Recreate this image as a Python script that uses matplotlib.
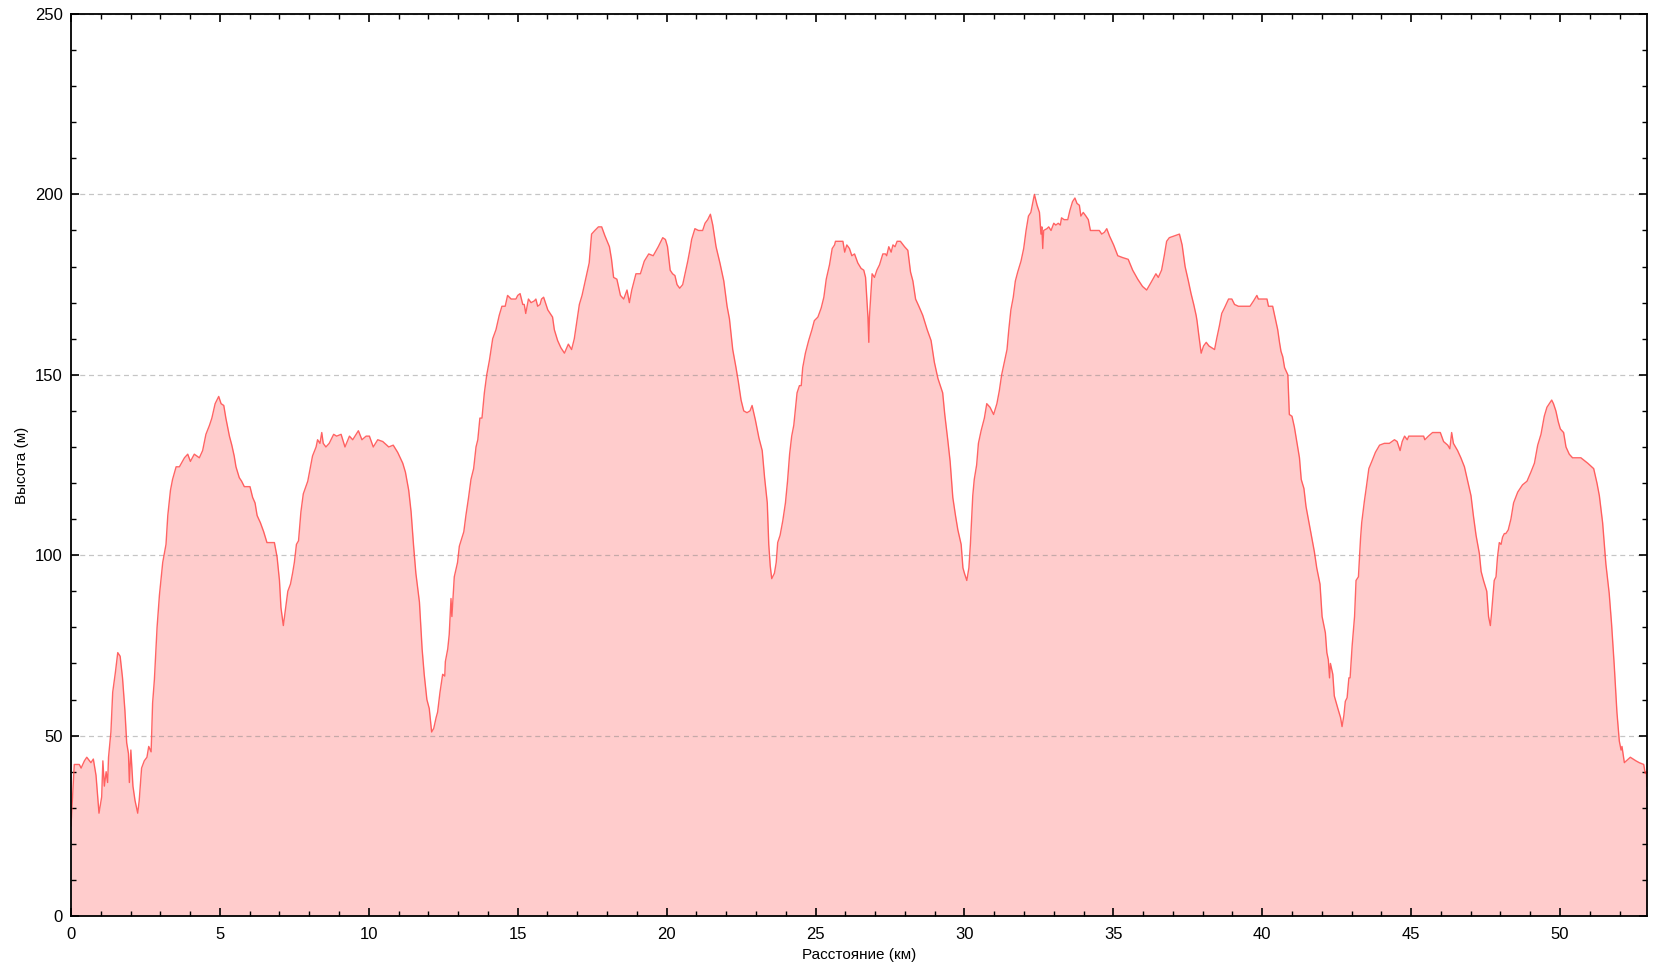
import matplotlib
matplotlib.use("Agg")
import matplotlib.pyplot as plt
from matplotlib.ticker import MultipleLocator

plt.rcParams['font.family'] = ['Liberation Sans', 'DejaVu Sans']

distance_km = [
    0.00, 0.11, 0.28, 0.34, 0.45, 0.53, 0.67, 0.75, 0.84, 0.94, 1.03, 1.07, 1.12, 1.18, 1.23, 1.26,
    1.34, 1.40, 1.49, 1.57, 1.65, 1.73, 1.81, 1.87, 1.93, 1.96, 2.01, 2.08, 2.15, 2.24, 2.29, 2.37,
    2.46, 2.55, 2.61, 2.69, 2.74, 2.80, 2.89, 2.97, 3.08, 3.19, 3.25, 3.34, 3.41, 3.53, 3.64, 3.81,
    3.92, 4.01, 4.14, 4.31, 4.42, 4.53, 4.65, 4.73, 4.84, 4.90, 4.96, 5.04, 5.13, 5.20, 5.32, 5.40,
    5.48, 5.54, 5.65, 5.73, 5.82, 6.01, 6.10, 6.18, 6.25, 6.36, 6.47, 6.58, 6.68, 6.83, 6.92, 7.00,
    7.05, 7.13, 7.20, 7.28, 7.37, 7.44, 7.50, 7.57, 7.64, 7.72, 7.80, 7.95, 8.03, 8.11, 8.23, 8.28,
    8.36, 8.42, 8.47, 8.56, 8.67, 8.82, 8.92, 9.07, 9.20, 9.35, 9.46, 9.65, 9.77, 9.91, 10.02, 10.15,
    10.30, 10.47, 10.67, 10.82, 10.97, 11.14, 11.23, 11.34, 11.42, 11.50, 11.58, 11.70, 11.79, 11.86,
    11.95, 12.03, 12.11, 12.18, 12.26, 12.31, 12.39, 12.48, 12.55, 12.57, 12.65, 12.70, 12.76, 12.79,
    12.87, 12.98, 13.04, 13.19, 13.26, 13.35, 13.43, 13.52, 13.60, 13.66, 13.73, 13.80, 13.88, 13.96,
    14.05, 14.16, 14.27, 14.38, 14.47, 14.58, 14.66, 14.78, 14.94, 15.00, 15.08, 15.14, 15.17, 15.22,
    15.27, 15.36, 15.45, 15.56, 15.61, 15.67, 15.75, 15.80, 15.87, 16.01, 16.17, 16.23, 16.34, 16.45,
    16.57, 16.70, 16.81, 16.90, 16.99, 17.07, 17.16, 17.24, 17.33, 17.40, 17.48, 17.59, 17.71, 17.82,
    17.93, 18.08, 18.15, 18.22, 18.33, 18.45, 18.56, 18.67, 18.75, 18.83, 18.97, 19.12, 19.25, 19.40,
    19.55, 19.72, 19.87, 19.96, 20.03, 20.12, 20.20, 20.28, 20.35, 20.44, 20.54, 20.62, 20.71, 20.79,
    20.84, 20.95, 21.07, 21.21, 21.29, 21.38, 21.47, 21.55, 21.66, 21.79, 21.92, 22.03, 22.11, 22.22,
    22.33, 22.41, 22.50, 22.59, 22.70, 22.80, 22.87, 22.98, 23.10, 23.21, 23.29, 23.38, 23.43, 23.48,
    23.53, 23.62, 23.68, 23.73, 23.81, 23.90, 23.99, 24.06, 24.13, 24.20, 24.27, 24.33, 24.38, 24.46,
    24.52, 24.57, 24.66, 24.77, 24.88, 24.96, 25.08, 25.19, 25.28, 25.36, 25.47, 25.56, 25.64, 25.67,
    25.92, 25.98, 26.05, 26.14, 26.22, 26.31, 26.42, 26.53, 26.62, 26.68, 26.72, 26.76, 26.79, 26.81,
    26.85, 26.90, 26.98, 27.06, 27.15, 27.26, 27.35, 27.39, 27.46, 27.54, 27.60, 27.67, 27.74, 27.85,
    27.99, 28.10, 28.19, 28.27, 28.36, 28.47, 28.60, 28.75, 28.88, 28.99, 29.11, 29.27, 29.34, 29.44,
    29.52, 29.61, 29.70, 29.78, 29.89, 29.95, 30.00, 30.08, 30.15, 30.20, 30.28, 30.33, 30.41, 30.47,
    30.56, 30.67, 30.75, 30.86, 30.98, 31.09, 31.17, 31.25, 31.34, 31.43, 31.49, 31.56, 31.64, 31.71,
    31.79, 31.90, 31.99, 32.07, 32.15, 32.23, 32.35, 32.44, 32.52, 32.57, 32.60, 32.63, 32.66, 32.77,
    32.83, 32.91, 33.00, 33.07, 33.15, 33.22, 33.26, 33.35, 33.47, 33.54, 33.63, 33.71, 33.78, 33.86,
    33.91, 33.99, 34.08, 34.16, 34.23, 34.42, 34.53, 34.61, 34.70, 34.78, 34.87, 35.01, 35.15, 35.31,
    35.50, 35.65, 35.82, 35.98, 36.12, 36.26, 36.43, 36.51, 36.62, 36.71, 36.79, 36.88, 37.05, 37.22,
    37.31, 37.41, 37.52, 37.61, 37.70, 37.78, 37.81, 37.87, 37.95, 38.03, 38.12, 38.21, 38.40, 38.47,
    38.56, 38.64, 38.73, 38.87, 38.98, 39.07, 39.20, 39.40, 39.59, 39.71, 39.82, 39.87, 40.02, 40.16,
    40.21, 40.35, 40.43, 40.52, 40.58, 40.63, 40.69, 40.75, 40.86, 40.91, 41.00, 41.08, 41.17, 41.25,
    41.31, 41.40, 41.47, 41.56, 41.64, 41.75, 41.83, 41.94, 42.01, 42.12, 42.17, 42.22, 42.26, 42.29,
    42.37, 42.42, 42.54, 42.63, 42.68, 42.74, 42.79, 42.85, 42.91, 42.95, 43.02, 43.10, 43.15, 43.23,
    43.30, 43.34, 43.43, 43.49, 43.58, 43.68, 43.80, 43.94, 44.10, 44.27, 44.44, 44.53, 44.63, 44.70,
    44.78, 44.87, 44.92, 45.17, 45.42, 45.46, 45.58, 45.72, 45.98, 46.09, 46.23, 46.30, 46.36, 46.42,
    46.56, 46.67, 46.79, 46.90, 47.01, 47.09, 47.18, 47.29, 47.35, 47.43, 47.54, 47.60, 47.66, 47.70,
    47.79, 47.85, 47.90, 47.96, 48.02, 48.07, 48.13, 48.18, 48.26, 48.35, 48.44, 48.58, 48.74, 48.89,
    49.02, 49.14, 49.25, 49.36, 49.47, 49.56, 49.64, 49.72, 49.78, 49.86, 49.94, 50.01, 50.12, 50.20,
    50.31, 50.42, 50.70, 50.93, 51.13, 51.24, 51.32, 51.43, 51.54, 51.65, 51.73, 51.82, 51.91, 51.99,
    52.05, 52.08, 52.16, 52.36, 52.55, 52.66, 52.81, 52.86, 52.90, 52.92,
]

elevation_m = [
    25, 42, 42, 41, 43, 44, 42.5, 43.5, 39, 28.5, 33, 43, 36, 40, 37, 44,
    51, 62, 67.5, 73, 72, 66, 57, 48, 45, 37, 46, 36, 32, 28.5, 32, 41,
    43, 44, 47, 45.5, 59, 65.5, 80, 89, 98, 103, 111, 118, 121, 124.5, 124.5, 127,
    128, 126, 128, 127, 129, 133.5, 136, 138, 142, 143, 144, 142, 141.5, 138, 133, 130.5,
    127.5, 124.5, 121.5, 120.5, 119, 119, 116, 114.5, 111, 109, 106.5, 103.5, 103.5, 103.5, 99.5, 93,
    85.5, 80.5, 85, 90, 92, 95, 98, 103, 104, 112, 117, 120.5, 124, 127.5, 130, 132,
    131, 134, 131, 130, 131, 133.5, 133, 133.5, 130, 133, 132, 134.5, 132, 133, 133, 130,
    132, 131.5, 130, 130.5, 128.5, 125.5, 123, 118, 112, 103, 95, 87, 74, 67,
    60, 57.5, 51, 52, 55, 56.5, 62, 67, 66.5, 70.5, 74, 78, 88, 83,
    94, 98, 102.5, 106.5, 111, 116, 121, 124, 130, 132, 138, 138, 145, 150,
    154, 160, 162.5, 166.5, 169, 169, 172, 171, 171, 172, 172.5, 170.5, 169.5, 169.5,
    167, 171, 170, 170.5, 171, 169, 169.5, 171, 171.5, 168, 166, 162.5, 159.5, 157.5,
    156, 158.5, 157, 160, 165, 169.5, 172, 175, 178.5, 181, 189, 190, 191, 191,
    188.5, 185.5, 182, 177, 176.5, 172, 171, 173.5, 170, 173.5, 178, 178, 181.5, 183.5,
    183, 185.5, 188, 187.5, 185.5, 179, 178, 177.5, 175, 174, 175, 178, 181.5, 185,
    187.5, 190.5, 190, 190, 192, 193, 194.5, 191.5, 185.5, 181, 176, 169, 165.5, 157,
    152, 148, 143, 140, 139.5, 140, 141.5, 137.5, 132.5, 129, 121.5, 114.5, 103, 97,
    93.5, 95, 98, 103.5, 105.5, 109.5, 114.5, 120.5, 128, 133, 136, 141, 145, 147,
    147, 152, 156, 159.5, 162.5, 165, 166, 168.5, 171.5, 176.5, 180.5, 185, 186, 187,
    187, 184, 186, 185, 183, 183.5, 181, 179.5, 179, 177, 171.5, 166, 159, 166,
    171.5, 178, 177, 179, 180.5, 183.5, 183.5, 183, 185.5, 184, 186, 185.5, 187, 187,
    185.5, 184.5, 178.5, 176, 171, 169, 166.5, 162.5, 159.5, 153.5, 149, 145, 139, 132,
    126, 116, 111, 107, 103, 96.5, 95, 93, 96.5, 103, 116.5, 121, 125, 131,
    134.5, 138, 142, 141, 139, 142, 145.5, 150, 153.5, 157, 162.5, 168, 171.5, 176,
    178.5, 181.5, 185, 190, 194, 195, 200, 197, 195, 189, 191, 185, 190, 190.5,
    191, 190, 192, 191.5, 192, 191.5, 193.5, 193, 193, 195.5, 198, 199, 197.5, 197,
    194, 195, 194, 193, 190, 190, 190, 189, 189.5, 190.5, 188.5, 186, 183, 182.5,
    182, 179, 176.5, 174.5, 173.5, 175.5, 178, 177, 179, 183, 187, 188, 188.5, 189,
    186, 180, 176, 172.5, 169.5, 166.5, 165, 161, 156, 158, 159, 158, 157, 160,
    163.5, 167, 168.5, 171, 171, 169.5, 169, 169, 169, 170.5, 172, 171, 171, 171,
    169, 169, 166, 162.5, 159, 156.5, 155, 152, 150, 139, 138.5, 135.5, 131, 127,
    121, 118.5, 113.5, 109.5, 106, 101, 96.5, 92, 83, 78.5, 73, 71, 66, 70,
    67, 61, 57.5, 55, 52.5, 55.5, 59.5, 60.5, 66, 66, 75, 83, 93, 94,
    104.5, 109, 115, 118.5, 124, 126, 128.5, 130.5, 131, 131, 132, 131.5, 129, 131.5,
    133, 132, 133, 133, 133, 132, 133, 134, 134, 131.5, 130.5, 129.5, 134, 131,
    129, 127, 124.5, 120.5, 116.5, 111, 105.5, 100.5, 95.5, 93, 90, 83, 80.5, 84,
    93, 94, 99.5, 103.5, 103, 105, 106, 106, 107, 110, 114.5, 117.5, 119.5, 120.5,
    123, 125.5, 130.5, 133.5, 138.5, 141, 142, 143, 142, 140, 137, 135, 134, 130,
    128, 127, 127, 125.5, 124, 120, 116.5, 109, 97.5, 89.5, 81, 69.5, 56.5, 48.5,
    46, 47, 42.5, 44, 43, 42.5, 42, 39.5, 40, 36,
]

x_ticks = [0, 5, 10, 15, 20, 25, 30, 35, 40, 45, 50]
y_ticks = [0, 50, 100, 150, 200, 250]

fig = plt.figure(figsize=(16.62, 9.71), dpi=100)
ax = fig.add_axes([71 / 1662, 1 - 916 / 971, (1647 - 71) / 1662, (916 - 14) / 971])

ax.fill_between(distance_km, elevation_m, 0, color='#FFCCCC', linewidth=0, zorder=1)
ax.plot(distance_km, elevation_m, color='#FF4A4A', linewidth=1.0, alpha=0.85, zorder=3)

ax.set_xlim(0, 52.92)
ax.set_ylim(0, 250)
ax.set_xticks(x_ticks)
ax.set_yticks(y_ticks)
ax.xaxis.set_minor_locator(MultipleLocator(1))
ax.yaxis.set_minor_locator(MultipleLocator(10))
ax.tick_params(which='both', direction='in', top=True, right=True, labelsize=12, colors='black')
ax.tick_params(which='major', length=6, width=1.2)
ax.tick_params(which='minor', length=3.5, width=1.0)
ax.tick_params(axis='x', pad=8)
ax.tick_params(axis='y', pad=6)

ax.yaxis.grid(True, which='major', linestyle=(0, (4, 3)), color='#808080', alpha=0.45, linewidth=0.9, zorder=2)
ax.set_axisbelow(False)
for s in ax.spines.values():
    s.set_linewidth(1.3)
    s.set_zorder(5)

ax.set_xlabel('Расстояние (км)', fontsize=11, labelpad=4)
ax.set_ylabel('Высота (м)', fontsize=11, labelpad=4)

fig.savefig('out.png', dpi=100)
